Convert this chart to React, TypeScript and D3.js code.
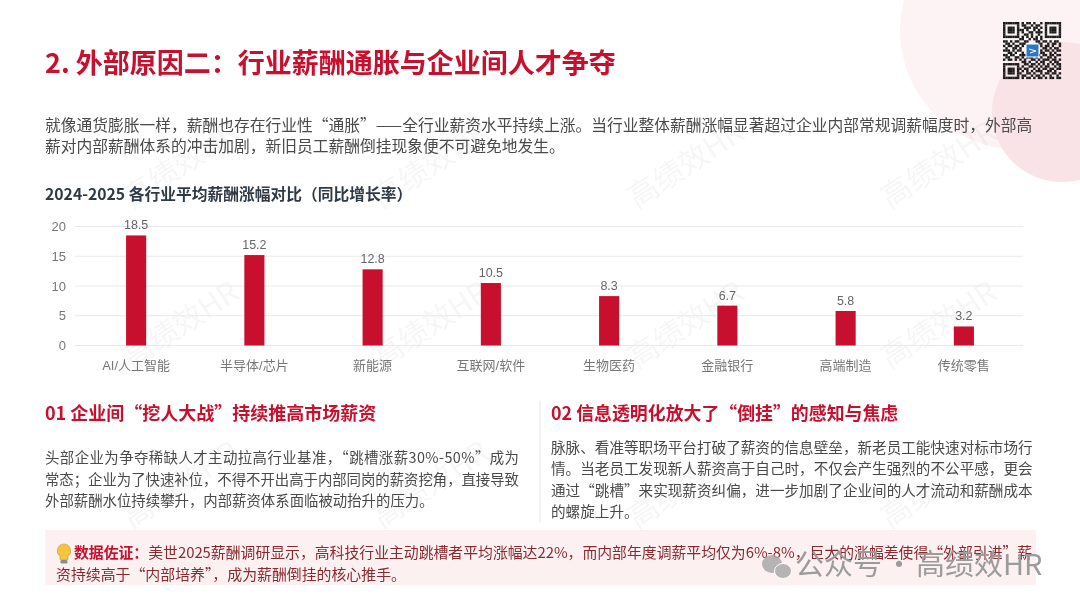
import React from "react";
import * as d3 from "d3";

const categories = ["AI/人工智能", "半导体/芯片", "新能源", "互联网/软件", "生物医药", "金融银行", "高端制造", "传统零售"];
const values = [18.5, 15.2, 12.8, 10.5, 8.3, 6.7, 5.8, 3.2];
const valueLabels = ["18.5", "15.2", "12.8", "10.5", "8.3", "6.7", "5.8", "3.2"];
const yTicks = [0, 5, 10, 15, 20];
const titleText = "2. 外部原因二：行业薪酬通胀与企业间人才争夺";
const introLines = [
  "就像通货膨胀一样，薪酬也存在行业性“通胀”——全行业薪资水平持续上涨。当行业整体薪酬涨幅显著超过企业内部常规调薪幅度时，外部高",
  "薪对内部薪酬体系的冲击加剧，新旧员工薪酬倒挂现象便不可避免地发生。",
];
const chartTitle = "2024-2025 各行业平均薪酬涨幅对比（同比增长率）";
const leftHead = "01 企业间“挖人大战”持续推高市场薪资";
const leftLines = [
  "头部企业为争夺稀缺人才主动拉高行业基准，“跳槽涨薪30%-50%”成为",
  "常态；企业为了快速补位，不得不开出高于内部同岗的薪资挖角，直接导致",
  "外部薪酬水位持续攀升，内部薪资体系面临被动抬升的压力。",
];
const rightHead = "02 信息透明化放大了“倒挂”的感知与焦虑";
const rightLines = [
  "脉脉、看准等职场平台打破了薪资的信息壁垒，新老员工能快速对标市场行",
  "情。当老员工发现新人薪资高于自己时，不仅会产生强烈的不公平感，更会",
  "通过“跳槽”来实现薪资纠偏，进一步加剧了企业间的人才流动和薪酬成本",
  "的螺旋上升。",
];
const calloutLabel = "数据佐证：";
const calloutFirst = "美世2025薪酬调研显示，高科技行业主动跳槽者平均涨幅达22%，而内部年度调薪平均仅为6%-8%，巨大的涨幅差使得“外部引进”薪";
const calloutSecond = "资持续高于“内部培养”，成为薪酬倒挂的核心推手。";
const wechatText = "公众号 · 高绩效HR";
const watermarkText = "高绩效HR";
const watermarkCols = [181, 431, 686, 939];
const watermarkRows = [165, 325, 485];
const qrRows = [
  "1111111010110100101111111",
  "1000001011001011001000001",
  "1011101001110110101011101",
  "1011101110100101001011101",
  "1011101010011011101011101",
  "1000001001101001001000001",
  "1111111010101010101111111",
  "0000000110010110100000000",
  "1101011001100011011010110",
  "0110100111000001100101101",
  "1011011010000000101101001",
  "0100110100000000011010110",
  "1110101100000000101101011",
  "0011010010000000110010100",
  "1101100111000001011011011",
  "0110011010111010100110100",
  "1011010101001101011101101",
  "0000000011010010110010110",
  "1111111001101101010101011",
  "1000001010011010101100101",
  "1011101101100101011011011",
  "1011101010101011100110100",
  "1011101100110100101101101",
  "1000001011001011010010010",
  "1111111010110101101011011",
];

const FONT = "'Noto Sans CJK SC','Noto Sans',sans-serif";
const AXISFONT = "'Liberation Sans','Noto Sans CJK SC',sans-serif";
const RED = "#c8102e";

const x = d3.scaleBand<string>().domain(categories).range([77, 1023]).paddingInner(0.83).paddingOuter(0.415);
const y = d3.scaleLinear().domain([0, 20]).range([345.5, 226.5]);
const qr = d3.scaleLinear().domain([0, 25]).range([1003, 1061]);
const qrY = d3.scaleLinear().domain([0, 25]).range([22, 79]);

export default function App() {
  return (
    <svg width={1080} height={608} viewBox="0 0 1080 608" style={{ position: "fixed", left: 0, top: 0, background: "#fff" }} fontFamily={FONT}>
      <defs>
        <filter id="soft" x="-5%" y="-5%" width="110%" height="110%"><feGaussianBlur stdDeviation="0.35" /></filter>
      </defs>
      <circle cx={1020} cy={30} r={120} fill="#fdf2f4" />
      <circle cx={1062} cy={112} r={70} fill="#f9e3e6" />

      <g fill="#9a9a9a" opacity={0.09} fontSize={30}>
        {watermarkCols.flatMap((cx) =>
          watermarkRows.map((cy) => (
            <text key={`${cx}-${cy}`} x={cx} y={cy + 10} textAnchor="middle" transform={`rotate(-33 ${cx} ${cy})`}>{watermarkText}</text>
          ))
        )}
      </g>

      <g filter="url(#soft)">
        {qrRows.flatMap((row, r) =>
          row.split("").map((c, k) =>
            c === "1" ? (
              <rect key={`${r}-${k}`} x={qr(k)} y={qrY(r)} width={qr(1) - qr(0) + 0.1} height={qrY(1) - qrY(0) + 0.1} fill="#1d1d1d" />
            ) : null
          )
        )}
        <rect x={1026} y={44} width={13} height={13} fill="#2a78c2" stroke="#fff" strokeWidth={1} />
        <path d="M1029 49 L1036 51 L1030 53" fill="none" stroke="#fff" strokeWidth={1} />
      </g>

      <text x={45} y={73} fontSize={27} fontWeight={700} fill={RED}>{titleText}</text>
      {introLines.map((t, i) => (
        <text key={i} x={45} y={130.5 + i * 21} fontSize={15.75} fill="#4a4a4a">{t}</text>
      ))}

      <text x={45} y={200} fontSize={15.75} fontWeight={700} fill="#2f3a45">{chartTitle}</text>

      {yTicks.map((t) => (
        <g key={t}>
          <line x1={75} x2={1023} y1={y(t)} y2={y(t)} stroke="#e9e9ec" strokeWidth={1} />
          <text x={66} y={y(t) + 4.5} textAnchor="end" fontSize={13} fill="#777" fontFamily={AXISFONT}>{t}</text>
        </g>
      ))}
      {categories.map((c, i) => {
        const bx = x(c)!;
        const cx = bx + x.bandwidth() / 2;
        return (
          <g key={c}>
            <rect x={bx} y={y(values[i])} width={x.bandwidth()} height={y(0) - y(values[i])} fill={RED} />
            <text x={cx} y={y(values[i]) - 6} textAnchor="middle" fontSize={12.5} fill="#666" fontFamily={AXISFONT}>{valueLabels[i]}</text>
            <text x={cx} y={370} textAnchor="middle" fontSize={13} fill="#777" fontFamily={AXISFONT}>{c}</text>
          </g>
        );
      })}

      <text x={45} y={420} fontSize={18} fontWeight={700} fill={RED}>{leftHead}</text>
      {leftLines.map((t, i) => (
        <text key={i} x={45} y={463 + i * 21.5} fontSize={14.4} fill="#4a4a4a" textLength={i < 2 ? 474 : undefined}>{t}</text>
      ))}
      <line x1={540} x2={540} y1={401} y2={522} stroke="#e6e6e6" strokeWidth={1} />
      <text x={551} y={420} fontSize={17.9} fontWeight={700} fill={RED}>{rightHead}</text>
      {rightLines.map((t, i) => (
        <text key={i} x={551} y={453 + i * 21.3} fontSize={14.6} fill="#4a4a4a">{t}</text>
      ))}

      <rect x={45} y={530} width={991} height={55} fill="#fdf0f1" />
      <g>
        <path d="M64 544 a7 7 0 0 1 4 12.5 v3 h-8 v-3 a7 7 0 0 1 4 -12.5 z" fill="#f6c33d" stroke="#c99a2a" strokeWidth={0.6} />
        <rect x={60.5} y={560} width={7} height={3.5} rx={1} fill="#8d8d8d" />
      </g>
      <text x={74} y={558} fontSize={14.85} fill="#8a2a30">
        <tspan fontWeight={700} fill={RED}>{calloutLabel}</tspan>
        <tspan>{calloutFirst}</tspan>
      </text>
      <text x={56} y={580} fontSize={14.9} fill="#8a2a30">{calloutSecond}</text>

      <g opacity={0.85}>
        <ellipse cx={772} cy={564} rx={10} ry={9} fill="#a9a9a9" />
        <ellipse cx={783} cy={571} rx={8.5} ry={7.5} fill="#a9a9a9" stroke="#fff" strokeWidth={1} />
      </g>
      <text x={795} y={575} fontSize={29} fill="#9b9b9b" wordSpacing={-4}>{wechatText}</text>
    </svg>
  );
}
